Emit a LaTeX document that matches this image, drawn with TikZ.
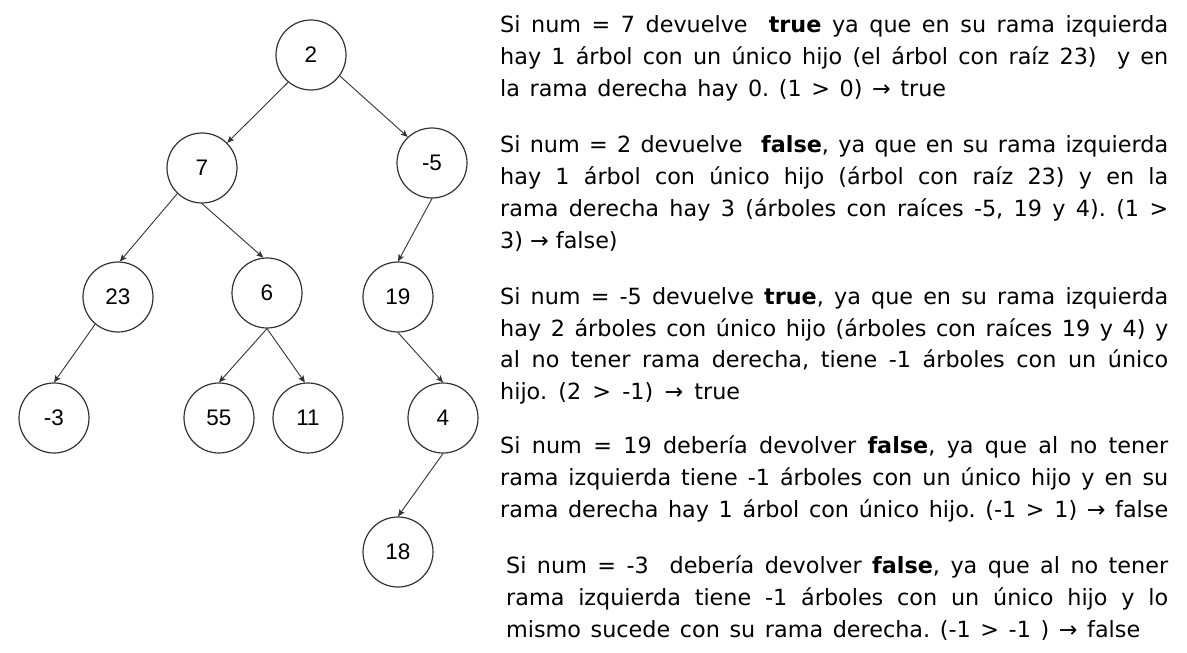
\documentclass[tikz,border=0pt]{standalone}
\usepackage{fontspec}
\setmainfont{DejaVu Sans}
\newfontfamily\arialf{Liberation Sans}
\usetikzlibrary{arrows.meta}
\definecolor{edgec}{HTML}{333333}
\frenchspacing
\newcommand{\jl}[1]{\makebox[668pt][s]{#1}}
\newcommand{\jlb}[1]{\makebox[662pt][s]{#1}}
\newcommand{\jw}[2]{\makebox[#1][s]{#2}}
\tikzset{
  tnode/.style={circle, draw=edgec, line width=1.2pt, minimum size=70pt, inner sep=0pt, font=\arialf\fontsize{22.5}{26}\selectfont},
  tedge/.style={draw=edgec, line width=0.9pt, -{Stealth[length=7pt,width=6pt,inset=1.5pt]}},
  txt/.style={anchor=base west, inner sep=0pt, font=\fontsize{22.3}{30}\selectfont}
}
\begin{document}
\begin{tikzpicture}[x=1pt,y=-1pt]
\useasboundingbox (0,0) rectangle (1187,653);
% tree
\node[tnode] (n2) at (311,55) {2};
\node[tnode] (n7) at (202,168) {7};
\node[tnode] (nm5) at (432,163) {-5};
\node[tnode] (n23) at (118,297) {23};
\node[tnode] (n6) at (267,293) {6};
\node[tnode] (n19) at (398,297) {19};
\node[tnode] (nm3) at (54,418) {-3};
\node[tnode] (n55) at (219,418) {55};
\node[tnode] (n11) at (308,418) {11};
\node[tnode] (n4) at (443,418) {4};
\node[tnode] (n18) at (398,552) {18};
\draw[tedge] (n2.230) -- (n7.45);
\draw[tedge] (n2.-36) -- (nm5.133);
\draw[tedge] (n7.226) -- (n23.87);
\draw[tedge] (n7.south) -- (n6.96);
\draw[tedge] (nm5.south) -- (n19.north);
\draw[tedge] (n23.230) -- (nm3.north);
\draw[tedge] (n6.south) -- (n55.north);
\draw[tedge] (n6.south) -- (n11.95);
\draw[tedge] (n19.south) -- (n4.north);
\draw[tedge] (n4.south) -- (n18.north);
% text
\node[txt] (l1) at (500,32) {\jl{Si num = 7 devuelve\ \ \textbf{true} ya que en su rama izquierda}};
\node[txt] (l2) at (500,64) {\jl{hay 1 árbol con un único hijo (el árbol con raíz 23)\ \ y en}};
\node[txt] (l3) at (500,96) {\jw{446pt}{la rama derecha hay 0. (1 > 0) → true}};
\node[txt] (l4) at (500,152) {\jl{Si num = 2 devuelve\ \ \textbf{false}, ya que en su rama izquierda}};
\node[txt] (l5) at (500,184) {\jl{hay 1 árbol con único hijo (árbol con raíz 23) y en la}};
\node[txt] (l6) at (500,216) {\jl{rama derecha hay 3 (árboles con raíces -5, 19 y 4). (1 >}};
\node[txt] (l7) at (500,248) {3) → false)};
\node[txt] (l8) at (500,304) {\jl{Si num = -5 devuelve \textbf{true}, ya que en su rama izquierda}};
\node[txt] (l9) at (500,336) {\jl{hay 2 árboles con único hijo (árboles con raíces 19 y 4) y}};
\node[txt] (l10) at (500,367) {\jl{al no tener rama derecha, tiene -1 árboles con un único}};
\node[txt] (l11) at (500,399) {\jw{240pt}{hijo. (2 > -1) → true}};
\node[txt] (l12) at (500,453) {\jl{Si num = 19 debería devolver \textbf{false}, ya que al no tener}};
\node[txt] (l13) at (500,485) {\jl{rama izquierda tiene -1 árboles con un único hijo y en su}};
\node[txt] (l14) at (500,517) {\jl{rama derecha hay 1 árbol con único hijo. (-1 > 1) → false}};
\node[txt] (l15) at (506,573) {\jlb{Si num = -3\ \ debería devolver \textbf{false}, ya que al no tener}};
\node[txt] (l16) at (506,605) {\jlb{rama izquierda tiene -1 árboles con un único hijo y lo}};
\node[txt] (l17) at (506,637) {\jw{634pt}{mismo sucede con su rama derecha. (-1 > -1 ) → false}};
\end{tikzpicture}
\end{document}
